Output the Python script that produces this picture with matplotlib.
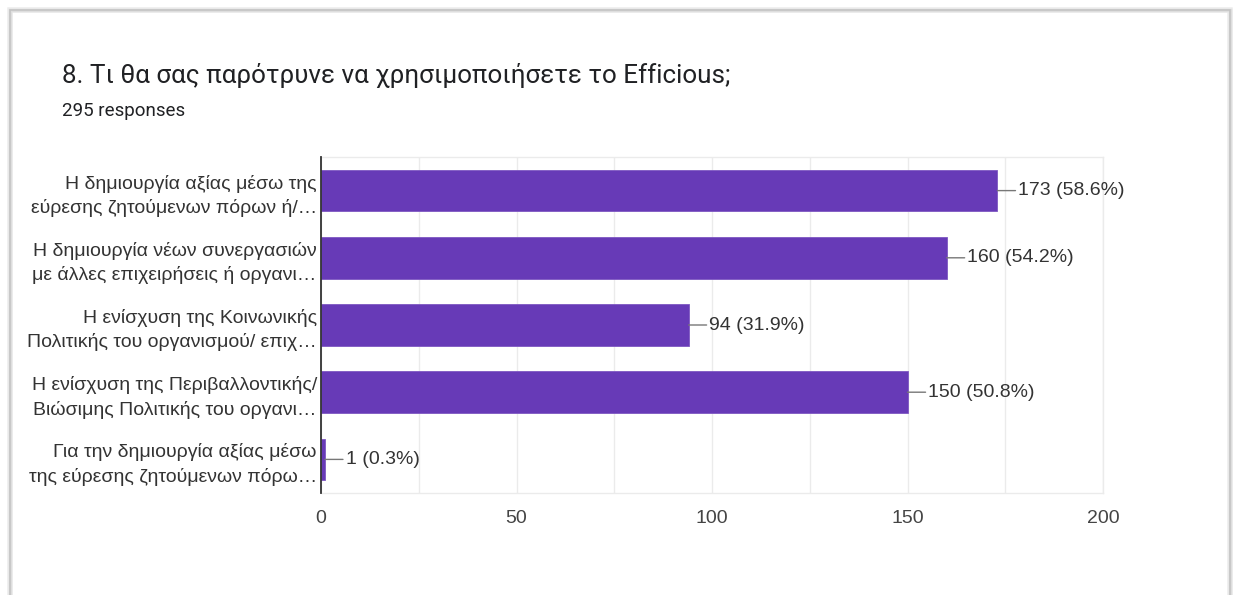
import matplotlib
matplotlib.use("Agg")
import matplotlib.pyplot as plt
from matplotlib.patches import Rectangle

title = "8. Τι θα σας παρότρυνε να χρησιμοποιήσετε το Efficious;"
subtitle = "295 responses"
categories = [
    "Η δημιουργία αξίας μέσω της\nεύρεσης ζητούμενων πόρων ή/…",
    "Η δημιουργία νέων συνεργασιών\nμε άλλες επιχειρήσεις ή οργανι…",
    "Η ενίσχυση της Κοινωνικής\nΠολιτικής του οργανισμού/ επιχ…",
    "Η ενίσχυση της Περιβαλλοντικής/\nΒιώσιμης Πολιτικής του οργανι…",
    "Για την δημιουργία αξίας μέσω\nτης εύρεσης ζητούμενων πόρω…",
]
counts = [173, 160, 94, 150, 1]
percents = [58.6, 54.2, 31.9, 50.8, 0.3]
xticks = [0, 50, 100, 150, 200]

W, H = 1233, 595
fig = plt.figure(figsize=(W / 100, H / 100), dpi=100)
fig.patch.set_facecolor("white")

# card frame with soft shadow
for c, lw in [("#ededed", 4), ("#dedede", 2.5), ("#c4c4c4", 1.2)]:
    fig.patches.append(Rectangle((10 / W, -0.05), 1220 / W, (H - 10) / H + 0.05,
                                 transform=fig.transFigure, fill=False,
                                 edgecolor=c, linewidth=lw, zorder=0))

fig.text(62 / W, 1 - 75 / H, title, fontsize=18.7, color="#202124",
         family=["Roboto", "DejaVu Sans"], va="center", ha="left")
fig.text(62 / W, 1 - 111 / H, subtitle, fontsize=13.5, color="#202124",
         family=["Roboto", "DejaVu Sans"], va="center", ha="left")

ax = fig.add_axes([321 / W, 1 - 493 / H, (1103 - 321) / W, (493 - 157) / H])
ypos = list(range(len(categories)))
ax.barh(ypos, counts, height=0.62, color="#673ab7", edgecolor="#7e57c2",
        linewidth=0.6, zorder=3)
ax.set_xlim(0, 200)
ax.set_ylim(len(categories) - 0.5, -0.5)
ax.set_xticks(xticks)
ax.set_xticks(range(0, 201, 25), minor=True)
ax.set_yticks(ypos)
ax.set_yticklabels(categories, fontsize=14, color="#333333",
                   family=["Liberation Sans", "DejaVu Sans"], linespacing=1.45)
ax.set_xticklabels([str(t) for t in xticks], fontsize=14, color="#444444",
                   family=["Liberation Sans", "DejaVu Sans"])
ax.tick_params(axis="both", which="both", length=0)
ax.tick_params(axis="x", pad=12)
ax.tick_params(axis="y", pad=3)
ax.grid(axis="x", which="both", color="#ebebeb", linewidth=1, zorder=0)
for s in ["top", "right", "bottom"]:
    ax.spines[s].set_color("#ebebeb")
    ax.spines[s].set_linewidth(1)
ax.spines["left"].set_color("#333333")
ax.spines["left"].set_linewidth(1.3)
ax.spines["left"].set_zorder(5)

for y, c, p in zip(ypos, counts, percents):
    ax.annotate(f"{c} ({p}%)", xy=(c, y), xytext=(15, 0),
                textcoords="offset points", va="center", ha="left",
                fontsize=14, color="#333333",
                family=["Liberation Sans", "DejaVu Sans"],
                arrowprops=dict(arrowstyle="-", color="#777777", lw=1,
                                shrinkA=0, shrinkB=0))

fig.savefig("out.png", dpi=100, facecolor="white")
